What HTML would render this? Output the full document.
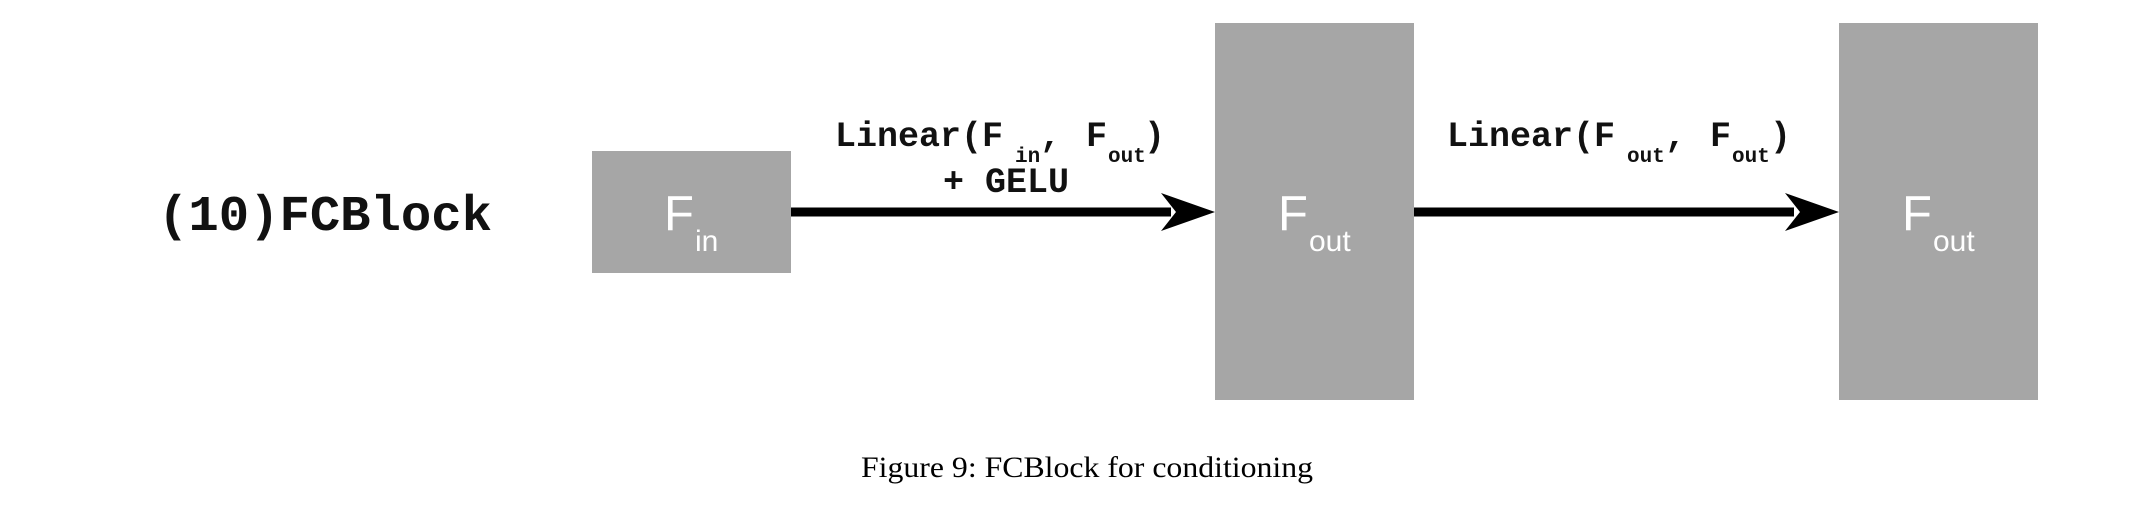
<!DOCTYPE html>
<html><head><meta charset="utf-8"><style>
html,body{margin:0;padding:0;background:#fff;width:2142px;height:512px;overflow:hidden}
.mono{font-family:"Liberation Mono",monospace;font-weight:bold;fill:#111}
.box{fill:#a6a6a6}
.bl{font-family:"Liberation Sans",sans-serif;fill:#fff}
</style></head><body>
<svg width="2142" height="512" viewBox="0 0 2142 512" xmlns="http://www.w3.org/2000/svg">
<text class="mono" x="158" y="230" font-size="50" textLength="334" lengthAdjust="spacingAndGlyphs">(10)FCBlock</text>

<rect class="box" x="592" y="151" width="199" height="122"/>
<text class="bl" x="664" y="230" font-size="49">F</text>
<text class="bl" x="695" y="251" font-size="30">in</text>

<rect class="box" x="1215" y="23" width="199" height="377"/>
<text class="bl" x="1278" y="230" font-size="49">F</text>
<text class="bl" x="1309" y="251" font-size="30">out</text>

<rect class="box" x="1839" y="23" width="199" height="377"/>
<text class="bl" x="1902" y="230" font-size="49">F</text>
<text class="bl" x="1933" y="251" font-size="30">out</text>

<g>
<rect x="791" y="207.5" width="380" height="9" fill="#000"/>
<polygon points="1161,193 1215,212 1161,231 1176,212" fill="#000"/>
</g>
<g>
<rect x="1414" y="207.5" width="380" height="9" fill="#000"/>
<polygon points="1785,193 1839,212 1785,231 1800,212" fill="#000"/>
</g>

<g>
<text class="mono" x="835" y="146" font-size="35">Linear(F</text>
<text class="mono" x="1015" y="162" font-size="21">in</text>
<text class="mono" x="1040" y="146" font-size="35">,</text>
<text class="mono" x="1086" y="146" font-size="35">F</text>
<text class="mono" x="1108" y="162" font-size="21">out</text>
<text class="mono" x="1144" y="146" font-size="35">)</text>
<text class="mono" x="943" y="192" font-size="35">+ GELU</text>
</g>
<g>
<text class="mono" x="1447" y="146" font-size="35">Linear(F</text>
<text class="mono" x="1627" y="162" font-size="21">out</text>
<text class="mono" x="1665" y="146" font-size="35">,</text>
<text class="mono" x="1710" y="146" font-size="35">F</text>
<text class="mono" x="1732" y="162" font-size="21">out</text>
<text class="mono" x="1770" y="146" font-size="35">)</text>
</g>

<text x="861" y="477" font-family="Liberation Serif,serif" font-size="30" fill="#000" textLength="452" lengthAdjust="spacingAndGlyphs">Figure 9: FCBlock for conditioning</text>
</svg>
</body></html>
